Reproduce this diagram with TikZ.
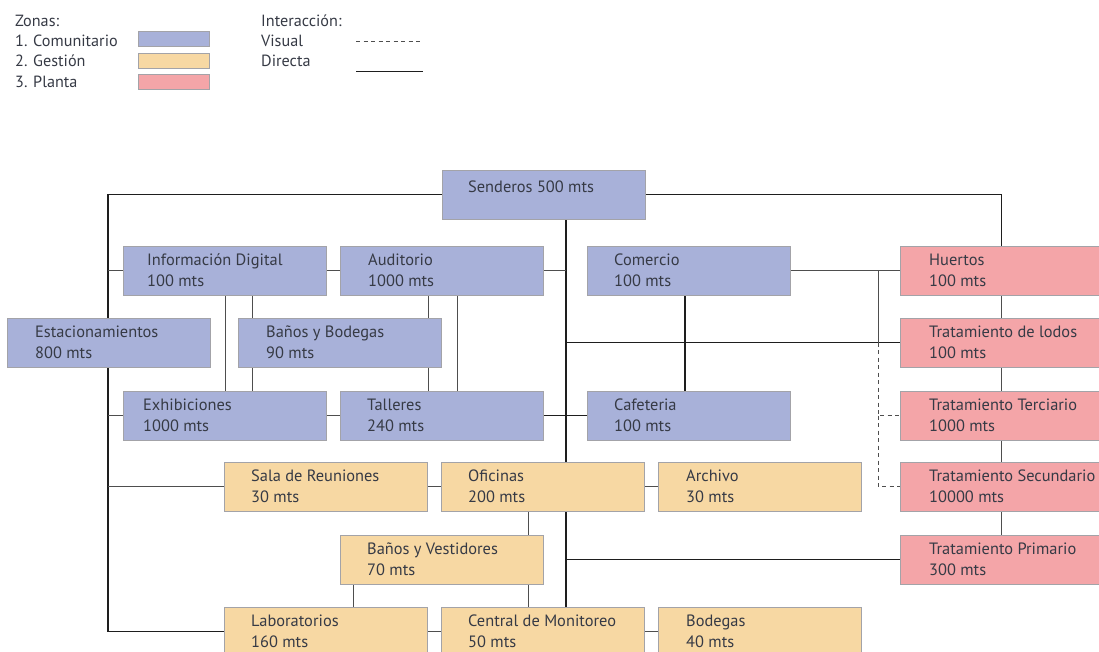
\documentclass[tikz,border=0pt]{standalone}
\usepackage{fontspec}
\setmainfont{PT Sans}
\usetikzlibrary{backgrounds,calc}
\definecolor{zblue}{HTML}{A8B1D9}
\definecolor{zorange}{HTML}{F7D8A3}
\definecolor{zpink}{HTML}{F4A5A8}
\definecolor{zborder}{HTML}{A3A3A8}
\definecolor{ztxt}{HTML}{363A45}
\definecolor{thinc}{HTML}{4E4E4E}
\definecolor{thickc}{HTML}{1E1E1E}
\tikzset{
  zone/.style={draw=zborder, line width=0.6pt, anchor=north west, minimum width=203pt, minimum height=49pt, inner sep=0pt, outer sep=0pt},
  ztext/.style={anchor=base west, inner sep=0pt, text=ztxt, font=\fontsize{16.4}{19}\selectfont},
  legt/.style={anchor=base west, inner sep=0pt, text=ztxt, font=\fontsize{16.2}{19}\selectfont},
  swatch/.style={draw=zborder, line width=0.6pt, anchor=north west, minimum width=71pt, minimum height=15pt, inner sep=0pt, outer sep=0pt},
  thinl/.style={draw=thinc, line width=0.9pt},
  thickl/.style={draw=thickc, line width=1.8pt},
  visl/.style={draw=thinc, line width=0.9pt, dash pattern=on 4pt off 3.5pt},
}
\newcommand{\zbox}[7]{%
  \node[zone, fill=#4] (#1) at (#2,#3) {};
  \node[ztext] (#1a) at ($(#1.north west)+(#5,19.5)$) {#6};
  \node[ztext] (#1b) at ($(#1.north west)+(#5,40.5)$) {#7};
}
\begin{document}
\begin{tikzpicture}[x=1pt,y=-1pt]
\useasboundingbox (0,0) rectangle (1099,652);
\clip (0,0) rectangle (1099,652);
% legend
\node[legt] (lz) at (15,27) {Zonas:};
\node[legt] (l1) at (15,46.5) {1. Comunitario};
\node[legt] (l2) at (15,67) {2. Gestión};
\node[legt] (l3) at (15,87.5) {3. Planta};
\node[swatch, fill=zblue] (sw1) at (138,31) {};
\node[swatch, fill=zorange] (sw2) at (138,53) {};
\node[swatch, fill=zpink] (sw3) at (138,74) {};
\node[legt] (li) at (261,27) {Interacción:};
\node[legt] (lv) at (261,46.5) {Visual};
\node[legt] (ld) at (261,67) {Directa};
\coordinate (dv1) at (356,41); \coordinate (dv2) at (423,41);
\coordinate (dd1) at (356,71.5); \coordinate (dd2) at (423,71.5);
\draw[visl] (dv1) -- (dv2);
\draw[thinl, draw=thickc] (dd1) -- (dd2);
% boxes
\node[zone, fill=zblue] (sen) at (442,170) {};
\node[ztext] (sena) at ($(sen.north west)+(26,22.5)$) {Senderos 500 mts};
\zbox{info}{123}{246}{zblue}{24}{Información Digital}{100 mts}
\zbox{aud}{340}{246}{zblue}{28}{Auditorio}{1000 mts}
\zbox{com}{587}{246}{zblue}{27}{Comercio}{100 mts}
\zbox{hue}{900}{246}{zpink}{29}{Huertos}{100 mts}
\zbox{est}{7}{318}{zblue}{28}{Estacionamientos}{800 mts}
\zbox{bb}{238}{318}{zblue}{28}{Baños y Bodegas}{90 mts}
\zbox{lod}{900}{318}{zpink}{29}{Tratamiento de lodos}{100 mts}
\zbox{exh}{123}{391}{zblue}{20}{Exhibiciones}{1000 mts}
\zbox{tal}{340}{391}{zblue}{27}{Talleres}{240 mts}
\zbox{caf}{587}{391}{zblue}{27}{Cafeteria}{100 mts}
\zbox{ter}{900}{391}{zpink}{29}{Tratamiento Terciario}{1000 mts}
\zbox{sala}{224}{462}{zorange}{27}{Sala de Reuniones}{30 mts}
\zbox{ofi}{441}{462}{zorange}{27}{Oficinas}{200 mts}
\zbox{arc}{658}{462}{zorange}{28}{Archivo}{30 mts}
\zbox{sec}{900}{462}{zpink}{29}{Tratamiento Secundario}{10000 mts}
\zbox{bv}{340}{535}{zorange}{27}{Baños y Vestidores}{70 mts}
\zbox{pri}{900}{535}{zpink}{29}{Tratamiento Primario}{300 mts}
\zbox{lab}{224}{607}{zorange}{27}{Laboratorios}{160 mts}
\zbox{cen}{441}{607}{zorange}{27}{Central de Monitoreo}{50 mts}
\zbox{bod}{658}{607}{zorange}{28}{Bodegas}{40 mts}
% helper coordinates for vertical runs
\coordinate (L) at (108,194.5);
\coordinate (S) at (566,0);
\coordinate (x225) at (225,0);
\coordinate (x252) at (252,0);
\coordinate (x428) at (428,0);
\coordinate (x457) at (457,0);
\coordinate (x528) at (528,0);
\coordinate (x353) at (353,0);
\coordinate (x685) at (685,0);
\coordinate (x878) at (878,0);
\begin{scope}[on background layer]
% direct, heavy
\draw[thickl] (sen.west) -- (L) |- (lab.west);
\draw[thickl] (sen.east) -| (hue.north);
\draw[thickl] (sen.south -| S) -- (cen.north -| S);
\draw[thickl] (lod.west -| S) -- (lod.west);
\draw[thickl] (pri.west -| S) -- (pri.west);
\draw[thickl] (tal.east) -- (caf.west);
\draw[thickl] (com.south -| x685) -- (caf.north -| x685);
% direct, light
\draw[thinl] (info.west) -- (info.west -| L);
\draw[thinl] (info.east) -- (aud.west);
\draw[thinl] (aud.east) -- (aud.east -| S);
\draw[thinl] (info.south -| x225) -- (exh.north -| x225);
\draw[thinl] (info.south -| x252) -- (exh.north -| x252);
\draw[thinl] (aud.south -| x428) -- (tal.north -| x428);
\draw[thinl] (aud.south -| x457) -- (tal.north -| x457);
\draw[thinl] (exh.west) -- (exh.west -| L);
\draw[thinl] (exh.east) -- (tal.west);
\draw[thinl] (sala.west) -- (sala.west -| L);
\draw[thinl] (sala.east) -- (ofi.west);
\draw[thinl] (ofi.east) -- (arc.west);
\draw[thinl] (ofi.south -| x528) -- (bv.north -| x528);
\draw[thinl] (bv.south -| x353) -- (lab.north -| x353);
\draw[thinl] (bv.south -| x528) -- (cen.north -| x528);
\draw[thinl] (lab.east) -- (cen.west);
\draw[thinl] (cen.east) -- (bod.west);
\draw[thinl] (com.east) -- (hue.west);
\draw[thinl] (hue.west -| x878) -- (lod.west -| x878);
\draw[thinl] (hue.south) -- (lod.north);
\draw[thinl] (lod.south) -- (ter.north);
\draw[thinl] (ter.south) -- (sec.north);
\draw[thinl] (sec.south) -- (pri.north);
% visual
\draw[visl] (lod.west -| x878) |- (ter.west);
\draw[visl] (ter.west -| x878) |- (sec.west);
\end{scope}
\end{tikzpicture}
\end{document}
